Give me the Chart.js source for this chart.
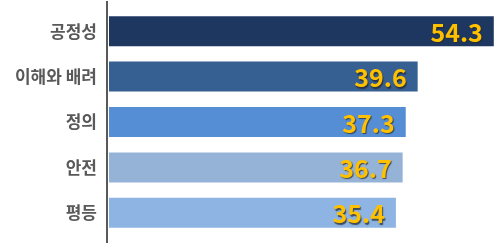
<!DOCTYPE html>
<html>
<head>
<meta charset="utf-8">
<script src="https://cdn.jsdelivr.net/npm/chart.js@4/dist/chart.umd.min.js"></script>
<style>
html,body{margin:0;padding:0;background:#fff;}
#wrap{width:503px;height:244px;}
</style>
</head>
<body>
<div id="wrap"><canvas id="c" width="503" height="244"></canvas></div>
<script>
const categories = ['공정성', '이해와 배려', '정의', '안전', '평등'];
const values = [54.3, 39.6, 37.3, 36.7, 35.4];
const barColors = ['#1E3760', '#365F92', '#558ED5', '#95B3D7', '#8DB4E2'];

const axisLine = {
  id: 'axisLine',
  afterDraw(chart) {
    const ctx = chart.ctx;
    const x = chart.chartArea.left - 2;
    ctx.save();
    ctx.strokeStyle = '#595959';
    ctx.lineWidth = 2;
    ctx.beginPath();
    ctx.moveTo(x, 1);
    ctx.lineTo(x, chart.height - 1);
    ctx.stroke();
    ctx.restore();
  }
};

const valueLabels = {
  id: 'valueLabels',
  afterDatasetsDraw(chart) {
    const ctx = chart.ctx;
    const meta = chart.getDatasetMeta(0);
    ctx.save();
    ctx.font = 'bold 25px "Noto Sans CJK KR", "Open Sans", sans-serif';
    ctx.textAlign = 'right';
    ctx.textBaseline = 'middle';
    meta.data.forEach((bar, i) => {
      ctx.shadowColor = 'rgba(40,40,40,0.75)';
      ctx.shadowOffsetX = 1;
      ctx.shadowOffsetY = 1.5;
      ctx.shadowBlur = 1;
      ctx.fillStyle = '#FFC000';
      ctx.fillText(values[i].toFixed(1), bar.x - 11, bar.y + 1);
    });
    ctx.restore();
  }
};

new Chart(document.getElementById('c'), {
  type: 'bar',
  data: {
    labels: categories,
    datasets: [{
      data: values,
      backgroundColor: barColors,
      borderWidth: 0,
      base: -20,
      categoryPercentage: 1,
      barPercentage: 0.66
    }]
  },
  options: {
    indexAxis: 'y',
    responsive: false,
    animation: false,
    devicePixelRatio: 1,
    layout: { padding: { top: 8.5, bottom: 8.5, right: 3, left: 0 } },
    plugins: { legend: { display: false }, tooltip: { enabled: false } },
    scales: {
      x: { display: false, min: -20, max: 55.5 },
      y: {
        grid: { display: true, drawOnChartArea: false, drawTicks: true, tickLength: 12, color: 'rgba(0,0,0,0)' },
        border: { display: false },
        afterFit(scale) { scale.width = 109; },
        ticks: {
          padding: 0,
          color: '#595959',
          font: { family: '"Noto Sans CJK KR", sans-serif', size: 17, weight: 'bold', lineHeight: 1 }
        }
      }
    }
  },
  plugins: [axisLine, valueLabels]
});
</script>
</body>
</html>
